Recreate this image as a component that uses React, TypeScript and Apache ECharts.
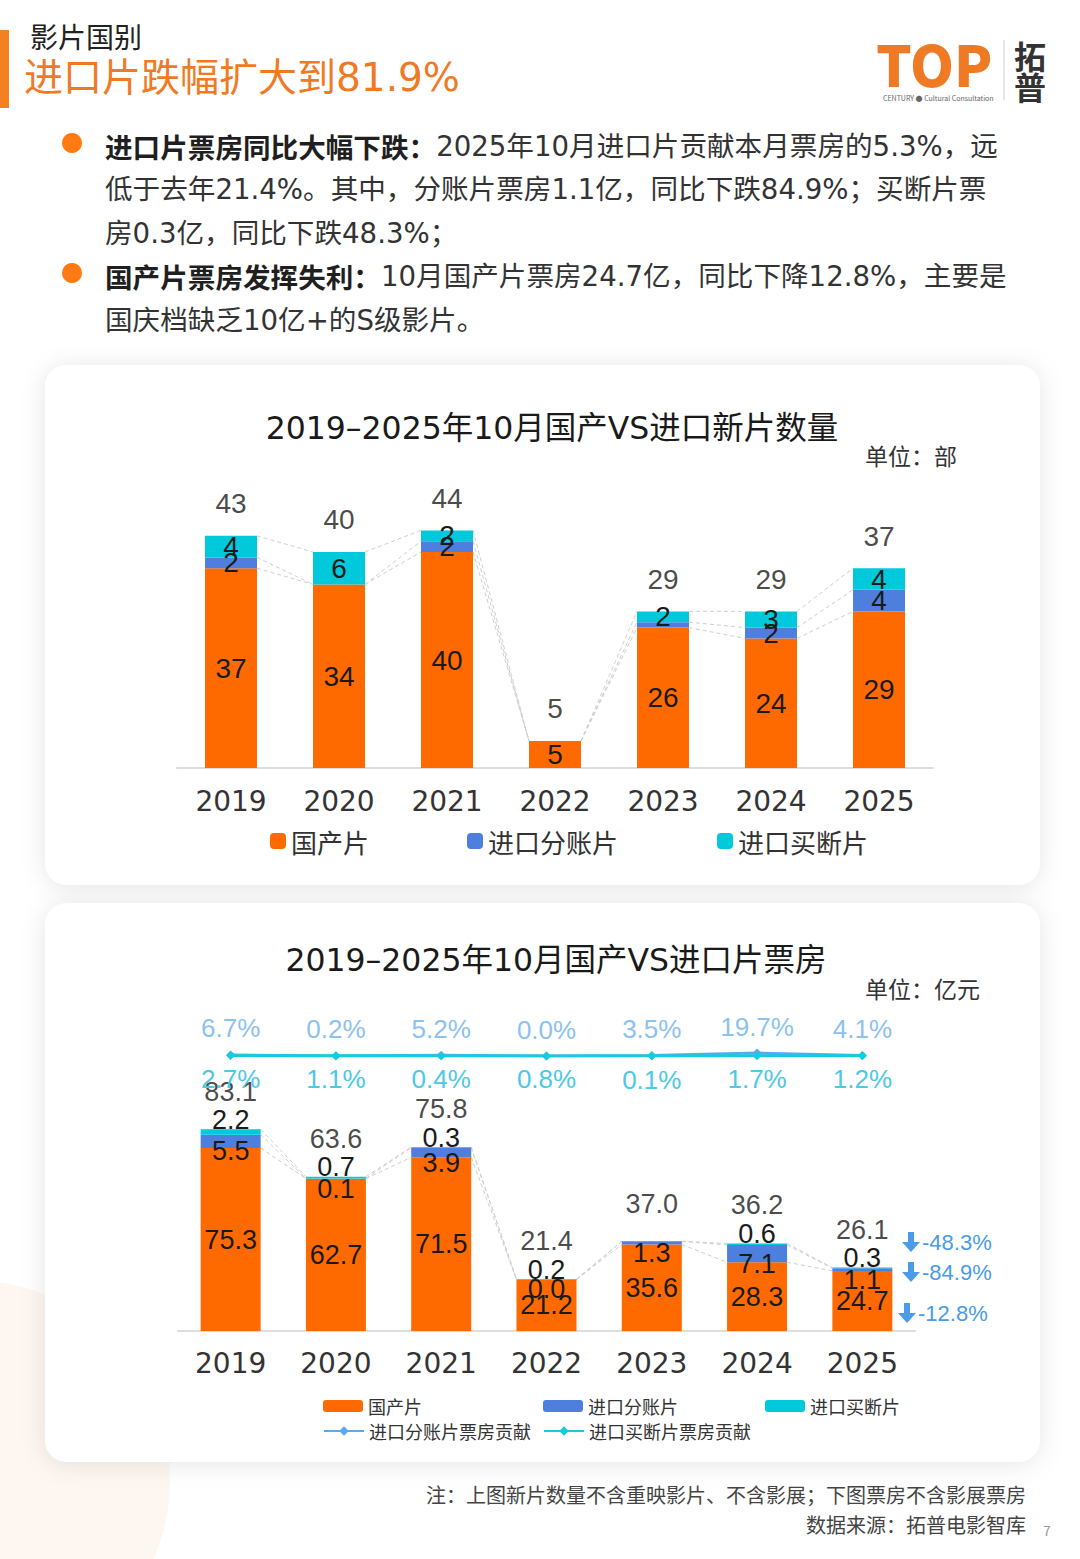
import React, { useEffect, useRef } from 'react';
import * as echarts from 'echarts';

const years = ['2019', '2020', '2021', '2022', '2023', '2024', '2025'];

// Chart 1: number of new films
const countDomestic = [37, 34, 40, 5, 26, 24, 29];
const countSplit = [2, 0, 2, 0, 1, 2, 4];
const countBuyout = [4, 6, 2, 0, 2, 3, 4];
const countTotal = [43, 40, 44, 5, 29, 29, 37];

// Chart 2: box office (亿元)
const boxDomestic = [75.3, 62.7, 71.5, 21.2, 35.6, 28.3, 24.7];
const boxSplit = [5.5, 0.1, 3.9, 0.0, 1.3, 7.1, 1.1];
const boxBuyout = [2.2, 0.7, 0.3, 0.2, 0.04, 0.6, 0.3];
const boxTotal = [83.1, 63.6, 75.8, 21.4, 37.0, 36.2, 26.1];
const shareSplit = [6.7, 0.2, 5.2, 0.0, 3.5, 19.7, 4.1];
const shareBuyout = [2.7, 1.1, 0.4, 0.8, 0.1, 1.7, 1.2];
const yoyLabels = ['-48.3%', '-84.9%', '-12.8%'];

const ORANGE = '#FF6A00';
const BLUE = '#4E7FDF';
const CYAN = '#00C9DB';
const FONT = '"Noto Sans CJK SC", "Noto Sans", sans-serif';
const FONT_MIX = '"DejaVu Sans", "Noto Sans CJK SC", sans-serif';
const FONT_NUM = '"Liberation Sans", "Noto Sans CJK SC", sans-serif';

function cumulative(a: number[], b: number[], c: number[]) {
  return a.map((v, i) => [v, v + b[i], v + b[i] + c[i]]);
}

function connectorData(a: number[], b: number[], c: number[]) {
  const cum = cumulative(a, b, c);
  const out: number[][] = [];
  for (let i = 0; i < cum.length - 1; i++) {
    out.push([i, ...cum[i], ...cum[i + 1]]);
  }
  return out;
}

function connectorSeries(xi: number, yi: number, barW: number, data: number[][]) {
  return {
    type: 'custom',
    xAxisIndex: xi,
    yAxisIndex: yi,
    silent: true,
    z: 1,
    data,
    encode: { x: 0, y: [1, 2, 3, 4, 5, 6] },
    renderItem: (params: any, api: any) => {
      const i = api.value(0);
      const children: any[] = [];
      for (let k = 0; k < 3; k++) {
        const p1 = api.coord([i, api.value(1 + k)]);
        const p2 = api.coord([i + 1, api.value(4 + k)]);
        children.push({
          type: 'line',
          shape: { x1: p1[0] + barW / 2, y1: p1[1], x2: p2[0] - barW / 2, y2: p2[1] },
          style: { stroke: '#cfcfcf', lineWidth: 1, lineDash: [4, 3] },
        });
      }
      return { type: 'group', children };
    },
  };
}

const fmt1 = (v: number) => v.toFixed(1);

function arrowGroup(x: number, y: number, label: string) {
  const c = '#4A9BE8';
  return {
    type: 'group',
    x,
    y,
    children: [
      { type: 'rect', shape: { x: -3, y: -10, width: 6, height: 10 }, style: { fill: c } },
      { type: 'polygon', shape: { points: [[-9, 0], [9, 0], [0, 10]] }, style: { fill: c } },
      {
        type: 'text',
        x: 11,
        y: 0,
        style: { text: label, fontSize: 22, fontFamily: FONT_NUM, fill: c, verticalAlign: 'middle' },
      },
    ],
  };
}

export default function App() {
  const ref = useRef<HTMLDivElement>(null);

  useEffect(() => {
    if (!ref.current) return;
    const chart = echarts.init(ref.current, undefined, { renderer: 'svg' });

    const legendText = { fontSize: 26, color: '#333', fontFamily: FONT };
    const legendText2 = { fontSize: 18, color: '#333', fontFamily: FONT };
    const lbl1 = { fontSize: 28, color: '#1a1a1a', fontFamily: FONT_NUM };
    const lbl2 = { fontSize: 27, color: '#1a1a1a', fontFamily: FONT_NUM };

    const option: any = {
      animation: false,
      backgroundColor: '#ffffff',
      textStyle: { fontFamily: FONT },
      grid: [
        { left: 177, top: 498, width: 756, height: 270 },
        { left: 178, top: 1088, width: 737, height: 243 },
        { left: 178, top: 1041, width: 737, height: 15 },
      ],
      xAxis: [
        {
          type: 'category', gridIndex: 0, data: years,
          axisLine: { lineStyle: { color: '#dddddd', width: 2 } },
          axisTick: { show: false },
          axisLabel: { fontSize: 28, color: '#333', margin: 19, fontFamily: FONT_MIX },
        },
        {
          type: 'category', gridIndex: 1, data: years,
          axisLine: { lineStyle: { color: '#dddddd', width: 2 } },
          axisTick: { show: false },
          axisLabel: { fontSize: 28, color: '#333', margin: 18, fontFamily: FONT_MIX },
        },
        { type: 'category', gridIndex: 2, data: years, show: false },
      ],
      yAxis: [
        { type: 'value', gridIndex: 0, min: 0, max: 50, show: false },
        { type: 'value', gridIndex: 1, min: 0, max: 100, show: false },
        { type: 'value', gridIndex: 2, min: 0, max: 100, show: false },
      ],
      legend: [
        { data: ['国产片'], left: 265, top: 823, itemWidth: 16, itemHeight: 16, textStyle: legendText, selectedMode: false },
        { data: ['进口分账片'], left: 462, top: 823, itemWidth: 16, itemHeight: 16, textStyle: legendText, selectedMode: false },
        { data: ['进口买断片'], left: 712, top: 823, itemWidth: 16, itemHeight: 16, textStyle: legendText, selectedMode: false },
        { data: ['国产片 '], left: 318, top: 1392, itemWidth: 40, itemHeight: 12, textStyle: legendText2, selectedMode: false },
        { data: ['进口分账片 '], left: 538, top: 1392, itemWidth: 40, itemHeight: 12, textStyle: legendText2, selectedMode: false },
        { data: ['进口买断片 '], left: 760, top: 1392, itemWidth: 40, itemHeight: 12, textStyle: legendText2, selectedMode: false },
        { data: ['进口分账片票房贡献'], left: 318, top: 1417, itemWidth: 40, itemHeight: 12, textStyle: legendText2, selectedMode: false },
        { data: ['进口买断片票房贡献'], left: 538, top: 1417, itemWidth: 40, itemHeight: 12, textStyle: legendText2, selectedMode: false },
      ],
      series: [
        // ---- chart 1
        connectorSeries(0, 0, 52, connectorData(countDomestic, countSplit, countBuyout)),
        {
          type: 'bar', name: '国产片', stack: 'cnt', xAxisIndex: 0, yAxisIndex: 0, barWidth: 52,
          data: countDomestic, itemStyle: { color: ORANGE },
          label: { show: true, position: 'inside', ...lbl1, formatter: (p: any) => (p.value ? String(p.value) : '') },
        },
        {
          type: 'bar', name: '进口分账片', stack: 'cnt', xAxisIndex: 0, yAxisIndex: 0, barWidth: 52,
          data: countSplit.map((v, i) => (i === 4 ? { value: v, label: { show: false } } : v)),
          itemStyle: { color: BLUE },
          label: { show: true, position: 'inside', ...lbl1, formatter: (p: any) => (p.value ? String(p.value) : '') },
        },
        {
          type: 'bar', name: '进口买断片', stack: 'cnt', xAxisIndex: 0, yAxisIndex: 0, barWidth: 52,
          data: countBuyout, itemStyle: { color: CYAN },
          label: { show: true, position: 'inside', ...lbl1, formatter: (p: any) => (p.value ? String(p.value) : '') },
        },
        {
          type: 'scatter', xAxisIndex: 0, yAxisIndex: 0, symbolSize: 0.1, silent: true,
          itemStyle: { color: 'transparent' }, data: countTotal,
          label: { show: true, position: 'top', distance: 18, ...lbl1 },
        },
        // ---- chart 2
        connectorSeries(1, 1, 60, connectorData(boxDomestic, boxSplit, boxBuyout)),
        {
          type: 'bar', name: '国产片 ', stack: 'box', xAxisIndex: 1, yAxisIndex: 1, barWidth: 60,
          data: boxDomestic, itemStyle: { color: ORANGE },
          label: { show: true, position: 'inside', ...lbl2, formatter: (p: any) => fmt1(p.value) },
        },
        {
          type: 'bar', name: '进口分账片 ', stack: 'box', xAxisIndex: 1, yAxisIndex: 1, barWidth: 60,
          data: boxSplit, itemStyle: { color: BLUE },
          label: { show: true, position: 'inside', offset: [0, 10], ...lbl2, formatter: (p: any) => fmt1(p.value) },
        },
        {
          type: 'bar', name: '进口买断片 ', stack: 'box', xAxisIndex: 1, yAxisIndex: 1, barWidth: 60,
          data: boxBuyout.map((v, i) => (i === 4 ? { value: v, label: { show: false } } : v)),
          itemStyle: { color: CYAN },
          label: { show: true, position: 'top', distance: -4, ...lbl2, formatter: (p: any) => fmt1(p.value) },
        },
        {
          type: 'scatter', xAxisIndex: 1, yAxisIndex: 1, symbolSize: 0.1, silent: true,
          itemStyle: { color: 'transparent' }, data: boxTotal,
          label: { show: true, position: 'top', distance: 24, ...lbl2, formatter: (p: any) => fmt1(p.value) },
        },
        {
          type: 'line', name: '进口分账片票房贡献', xAxisIndex: 2, yAxisIndex: 2,
          data: shareSplit, symbol: 'diamond', symbolSize: 9, color: '#5AAAF0',
          lineStyle: { width: 3, color: '#5AAAF0' }, itemStyle: { color: '#5AAAF0' },
          label: { show: true, position: 'top', distance: 9, fontSize: 26, fontFamily: FONT_NUM, color: '#8CC2F0', formatter: (p: any) => fmt1(p.value) + '%' },
          z: 3,
        },
        {
          type: 'line', name: '进口买断片票房贡献', xAxisIndex: 2, yAxisIndex: 2,
          data: shareBuyout, symbol: 'diamond', symbolSize: 9, color: '#16CBE0',
          lineStyle: { width: 3, color: '#16CBE0' }, itemStyle: { color: '#16CBE0' },
          label: { show: true, position: 'bottom', distance: 6, fontSize: 26, fontFamily: FONT_NUM, color: '#4CC9E4', formatter: (p: any) => fmt1(p.value) + '%' },
          z: 4,
        },
      ],
      graphic: [
        // background decoration
        { type: 'circle', shape: { cx: -30, cy: 1480, r: 200 }, style: { fill: '#FEF7F1' }, z: -5 },
        // cards
        { type: 'rect', shape: { x: 45, y: 365, width: 995, height: 520, r: 22 }, style: { fill: '#ffffff', shadowBlur: 24, shadowColor: 'rgba(0,0,0,0.10)', shadowOffsetY: 2 }, z: -1 },
        { type: 'rect', shape: { x: 45, y: 903, width: 995, height: 559, r: 22 }, style: { fill: '#ffffff', shadowBlur: 24, shadowColor: 'rgba(0,0,0,0.10)', shadowOffsetY: 2 }, z: -1 },
        // header
        { type: 'rect', shape: { x: 0, y: 30, width: 9, height: 78 }, style: { fill: '#F5801F' } },
        { type: 'text', x: 30, y: 36, style: { text: '影片国别', fontSize: 28, fontFamily: FONT, fill: '#222', verticalAlign: 'middle' } },
        { type: 'text', x: 24, y: 77, style: { text: '进口片跌幅扩大到81.9%', fontSize: 39, fontFamily: FONT_MIX, fill: '#F07A24', verticalAlign: 'middle' } },
        // logo
        { type: 'text', x: 876, y: 62, style: { text: 'TOP', fontSize: 56, lineHeight: 44, fontWeight: 900, fontFamily: FONT, fill: '#F07A24', verticalAlign: 'middle' } },
        { type: 'text', x: 883, y: 98, style: { text: 'CENTURY ● Cultural Consultation', fontSize: 7, lineHeight: 8, fontFamily: FONT, fill: '#666', verticalAlign: 'middle' } },
        { type: 'line', shape: { x1: 1004, y1: 40, x2: 1004, y2: 100 }, style: { stroke: '#cccccc', lineWidth: 1 } },
        { type: 'text', x: 1030, y: 55, style: { text: '拓', fontSize: 32, lineHeight: 30, fontWeight: 'bold', fontFamily: FONT, fill: '#333', align: 'center', verticalAlign: 'middle' } },
        { type: 'text', x: 1030, y: 86, style: { text: '普', fontSize: 32, lineHeight: 30, fontWeight: 'bold', fontFamily: FONT, fill: '#333', align: 'center', verticalAlign: 'middle' } },
        // bullets
        { type: 'circle', shape: { cx: 72, cy: 143, r: 10 }, style: { fill: '#FF7A12' } },
        { type: 'circle', shape: { cx: 72, cy: 273, r: 10 }, style: { fill: '#FF7A12' } },
        ...[
          ['{b|进口片票房同比大幅下跌：}2025年10月进口片贡献本月票房的5.3%，远', 146],
          ['低于去年21.4%。其中，分账片票房1.1亿，同比下跌84.9%；买断片票', 189],
          ['房0.3亿，同比下跌48.3%；', 233],
          ['{b|国产片票房发挥失利：}10月国产片票房24.7亿，同比下降12.8%，主要是', 276],
          ['国庆档缺乏10亿+的S级影片。', 320],
        ].map(([t, y]) => ({
          type: 'text', x: 105, y,
          style: {
            text: t, fontSize: 27.6, fontFamily: FONT_MIX, fill: '#333', verticalAlign: 'middle',
            rich: { b: { fontSize: 27.6, fontFamily: FONT, fontWeight: 'bold', fill: '#1f1f1f' } },
          },
        })),
        // chart titles & units
        { type: 'text', x: 552, y: 428, style: { text: '2019–2025年10月国产VS进口新片数量', fontSize: 31.5, fontFamily: FONT_MIX, fill: '#1a1a1a', align: 'center', verticalAlign: 'middle' } },
        { type: 'text', x: 865, y: 455, style: { text: '单位：部', fontSize: 23, fontFamily: FONT, fill: '#333', verticalAlign: 'middle' } },
        { type: 'text', x: 556, y: 960, style: { text: '2019–2025年10月国产VS进口片票房', fontSize: 31.5, fontFamily: FONT_MIX, fill: '#1a1a1a', align: 'center', verticalAlign: 'middle' } },
        { type: 'text', x: 865, y: 988, style: { text: '单位：亿元', fontSize: 23, fontFamily: FONT, fill: '#333', verticalAlign: 'middle' } },
        // yoy arrows
        arrowGroup(911, 1242, yoyLabels[0]),
        arrowGroup(911, 1272, yoyLabels[1]),
        arrowGroup(907, 1313, yoyLabels[2]),
        // footer
        { type: 'text', x: 1026, y: 1494, style: { text: '注：上图新片数量不含重映影片、不含影展；下图票房不含影展票房', fontSize: 20, fontFamily: FONT, fill: '#444', align: 'right', verticalAlign: 'middle' } },
        { type: 'text', x: 1026, y: 1524, style: { text: '数据来源：拓普电影智库', fontSize: 20, fontFamily: FONT, fill: '#444', align: 'right', verticalAlign: 'middle' } },
        { type: 'text', x: 1043, y: 1530, style: { text: '7', fontSize: 14, fontFamily: FONT, fill: '#999', verticalAlign: 'middle' } },
      ],
    };

    chart.setOption(option);
    return () => chart.dispose();
  }, []);

  return (
    <div
      ref={ref}
      style={{ position: 'absolute', left: 0, top: 0, width: 1080, height: 1559, background: '#fff' }}
    />
  );
}
